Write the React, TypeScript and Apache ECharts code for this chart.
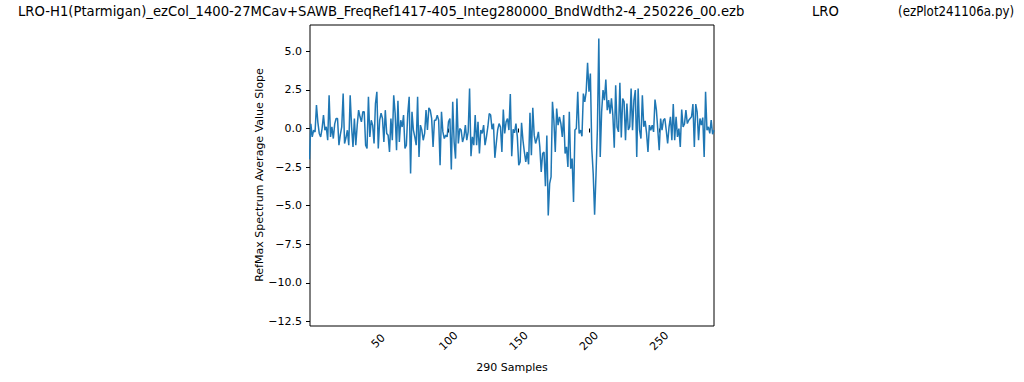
import React, { useEffect, useRef } from "react";
import * as echarts from "echarts";

// Samples 1..58
const slopeSegA = [
  -2.0, 0.3, -0.54, -0.11, -0.22, 1.52, 0.4, -0.32, -0.54, 0.0,
  0.87, -0.11, 0.11, -0.76, 2.16, -0.54, 0.11, -0.65, 0.3, 0.65,
  0.65, -1.08, -0.4, 0.11, 2.27, -0.97, -0.6, -0.11, -1.08, 2.16,
  0.11, -1.19, 0.65, -1.08, 0.2, 1.19, 0.76, 0.43, 1.08, 1.08,
  -1.08, -1.3, 2.06, -0.54, 0.54, 0.22, -0.97, 1.62, 2.38, -1.3,
  0.54, 1.0, 0.65, -0.87, 1.19, -0.32, -0.43, -1.52,
];
// Samples 59..115
const slopeSegB = [
  0.65, -0.76, 2.16, 1.0, -1.4, 1.8, -0.87, 0.54, 0.1, 0.87,
  -1.3, -1.08, 0.97, 2.06, -2.92, 1.08, -0.1, -0.54, -1.08, 2.06,
  -1.84, 0.22, -0.1, -0.76, -0.32, 1.19, -0.1, 1.34, 1.19, 0.65,
  -1.19, 0.54, 0.54, 0.87, 0.54, -2.38, 1.08, -0.22, -0.65, -0.43,
  -0.54, 0.43, 0.65, -2.66, 1.73, -0.87, -1.95, 1.95, -0.97, 0,
  -0.1, -0.87, -0.54, 0.22, -0.76, -0.22, 2.6,
];
// Samples 116..171
const slopeSegC = [
  -1.8, -0.54, -1.08, 0.87, -1.08, 0.43, -1.62, -0.1, -0.32, 0.22,
  -1.08, -0.54, 0.1, 0.97, 0.87, -0.05, 0.32, -1.9, -0.97, -0.08,
  0.32, 0.1, -1.52, 1.23, -0.32, 0.43, 0.65, -0.1, 2.23, -1.8,
  -0.05, -0.28, 0.32, -0.54, -2.38, -2.16, 0.37, -0.76, -1.52, -2.16,
  -1.52, -2.32, 1.02, -1.73, 1.34, -0.43, -0.97, -0.65, -0.22, -1.19,
  -2.81, -1.62, -1.52, -3.74, -0.45, -5.63,
];
// Samples 172..206
const slopeSegD = [
  -3.57, -3.14, 1.73, 0.54, -1.52, 1.3, 0.22, 0.76, 0.32, -0.54,
  0.87, -1.62, -1.19, -2.49, 1.08, -2.6, -1.95, -4.76, -0.1, 0,
  2.38, -0.32, -0.1, -0.5, 2.27, 1.73, 2.38, 4.26, 2.38, 3.57,
  -1.3, -2.92, -5.58, -3.0, 0,
];
// Samples 207..228
const slopeSegE = [
  5.84, -1.84, 1.08, 2.49, 1.84, 3.18, 1.19, 1.84, 0.97, 1.95,
  0.87, -1.24, 2.81, 0.1, -0.22, 2.96, -0.58, 1.95, 1.73, -0.76,
  1.62, -0.1,
];
// Samples 229..289
const slopeSegF = [
  0.11, 2.6, -0.11, 1.84, 2.49, -1.84, 2.6, -0.11, -0.65, 2.16,
  0.11, 0.5, -0.3, -1.52, 0.22, -0.11, 0.22, -0.22, 1.88, 1.19,
  -0.11, -1.41, 0.65, -0.11, 0.54, 0.65, -0.11, -0.97, 0.11, 0.76,
  -0.76, 1.58, -0.76, 0.76, -0.54, 0, -1.19, 1.23, 0.11, 0.3,
  1.19, 0.32, 0.54, 0.65, 0.76, 1.58, -1.19, 1.58, 1.08, -0.76,
  0.65, 0.22, 0.71, -1.84, 2.38, -0.11, 0.11, -0.32, 0.54, -0.37,
  -0.11,
];

const slopeValues = [
  ...slopeSegA, ...slopeSegB, ...slopeSegC, ...slopeSegD, ...slopeSegE, ...slopeSegF,
];
const sampleNumbers = slopeValues.map((_, i) => i + 1);

const yTicks = [-12.5, -10, -7.5, -5, -2.5, 0, 2.5, 5];
const xTicks = [50, 100, 150, 200, 250];

const titleMain =
  "LRO-H1(Ptarmigan)_ezCol_1400-27MCav+SAWB_FreqRef1417-405_Integ280000_BndWdth2-4_250226_00.ezb";
const titleSite = "LRO";
const titleScript = "(ezPlot241106a.py)";
const yLabel = "RefMax Spectrum Average Value Slope";
const xLabel = "290 Samples";

const FONT = '"DejaVu Sans", sans-serif';

export default function App() {
  const ref = useRef<HTMLDivElement>(null);

  useEffect(() => {
    if (!ref.current) return;
    const chart = echarts.init(ref.current, null, { renderer: "svg" });
    const data = sampleNumbers.map((s, i) => [s, slopeValues[i]]);
    const titleStyle = { fontSize: 13.2, fontFamily: FONT, fill: "#000", align: "left", verticalAlign: "middle" };
    chart.setOption({
      animation: false,
      backgroundColor: "#fff",
      grid: {
        left: 310,
        top: 25,
        width: 404,
        height: 301,
        show: true,
        borderColor: "#000",
        borderWidth: 1,
        backgroundColor: "transparent",
      },
      xAxis: {
        type: "value",
        min: 1.4,
        max: 289,
        axisLine: { show: false },
        splitLine: { show: false },
        axisTick: {
          show: true,
          customValues: xTicks,
          length: 4,
          lineStyle: { color: "#000", width: 1 },
        },
        axisLabel: {
          customValues: xTicks,
          rotate: 45,
          align: "center",
          verticalAlign: "middle",
          margin: 15,
          fontSize: 11,
          fontFamily: FONT,
          color: "#000",
        },
      },
      yAxis: {
        type: "value",
        min: -12.8,
        max: 6.71,
        axisLine: { show: false },
        splitLine: { show: false },
        axisTick: {
          show: true,
          customValues: yTicks,
          length: 4,
          lineStyle: { color: "#000", width: 1 },
        },
        axisLabel: {
          customValues: yTicks,
          margin: 8,
          fontSize: 11,
          fontFamily: FONT,
          color: "#000",
          formatter: (v: number) => v.toFixed(1).replace("-", "\u2212"),
        },
      },
      series: [
        {
          type: "line",
          data,
          showSymbol: false,
          symbol: "none",
          clip: true,
          lineStyle: { color: "#1f77b4", width: 1.5 },
        },
      ],
      graphic: [
        { type: "text", x: 18, y: 11, style: { text: titleMain, ...titleStyle } },
        { type: "text", x: 812, y: 11, style: { text: titleSite, ...titleStyle } },
        { type: "text", x: 898, y: 11, scaleX: 0.9, style: { text: titleScript, ...titleStyle } },
        {
          type: "text",
          x: 259,
          y: 175,
          rotation: Math.PI / 2,
          style: { text: yLabel, fontSize: 11, fontFamily: FONT, fill: "#000", align: "center", verticalAlign: "middle" },
        },
        {
          type: "text",
          x: 512,
          y: 367,
          style: { text: xLabel, fontSize: 11, fontFamily: FONT, fill: "#000", align: "center", verticalAlign: "middle" },
        },
      ],
    });
    return () => chart.dispose();
  }, []);

  return (
    <div
      ref={ref}
      style={{ position: "absolute", left: 0, top: 0, width: 1024, height: 382 }}
    />
  );
}
